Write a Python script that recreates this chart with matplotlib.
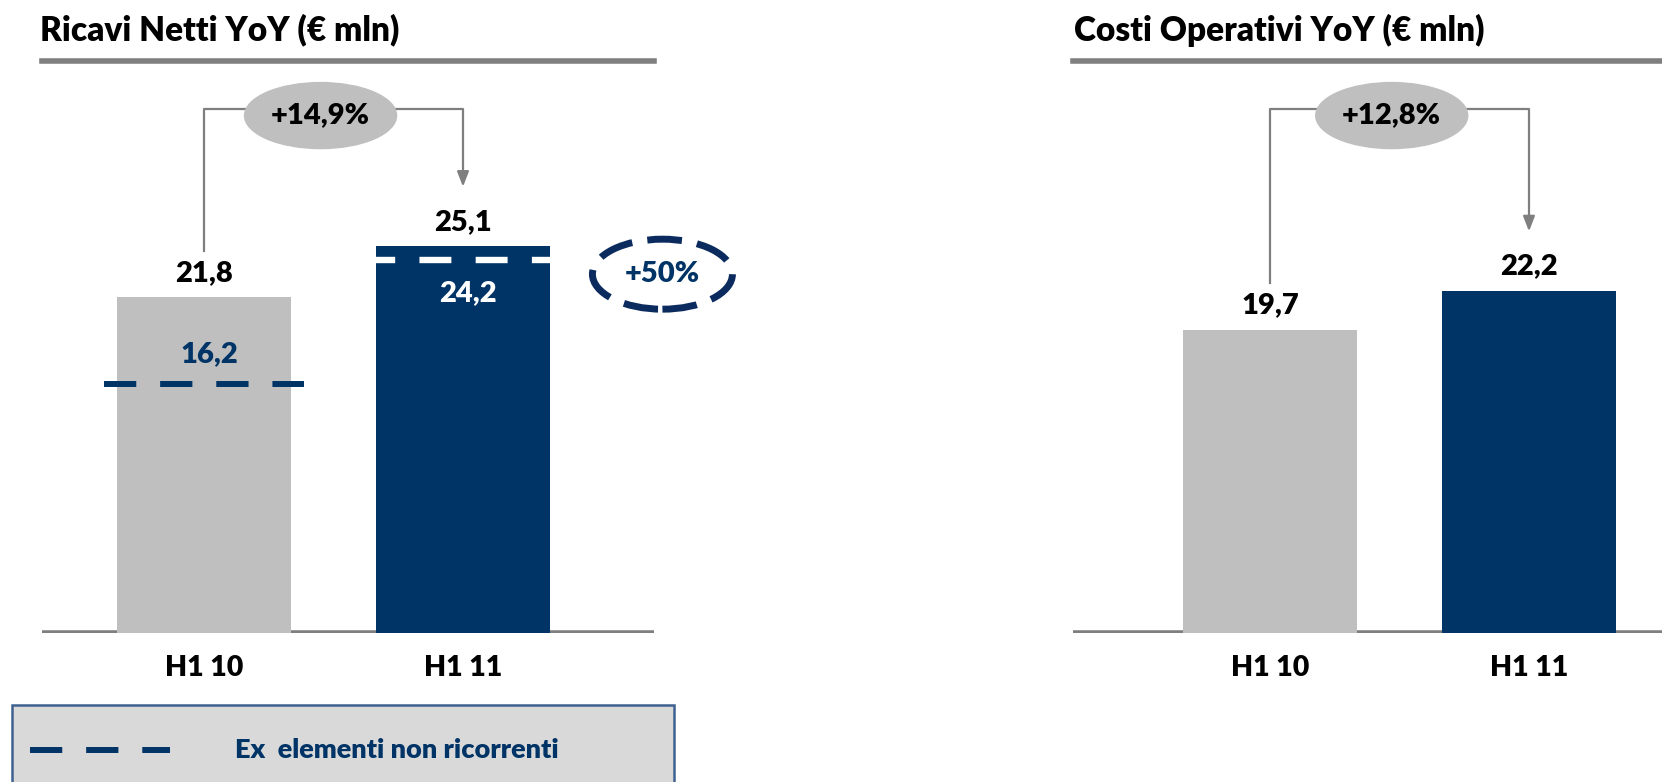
import matplotlib.pyplot as plt
from matplotlib.patches import Ellipse, Rectangle

# data
periods = ["H1 10", "H1 11"]
ricavi = [21.8, 25.1]
ricavi_ex = [16.2, 24.2]          # ex elementi non ricorrenti
costi = [19.7, 22.2]
ricavi_growth = "+14,9%"
costi_growth = "+12,8%"
ex_growth = "+50%"

GREY_BAR = "#bfbfbf"
NAVY = "#003366"
DARK_NAVY = "#0b2a5e"
RULE = "#7f7f7f"

W, H = 1662, 782
plt.rcParams['font.family'] = ['Lato', 'DejaVu Sans']
plt.rcParams['font.weight'] = 'heavy'
fig = plt.figure(figsize=(W / 100, H / 100), dpi=100)

PX_UNIT = 15.4     # pixels per € mln
BASE = 633         # baseline, px from top
STEP = 259         # px between bar centres


def fx(px):
    return px / W


def fy(py):
    return 1 - py / H


def fmt(v):
    return f"{v:.1f}".replace(".", ",")


def make_panel(x0, x1, c0, title, title_x, values, growth, ell_dx):
    ax = fig.add_axes([fx(x0), fy(BASE), (x1 - x0) / W, BASE / H])
    ax.set_xlim((x0 - c0) / STEP, (x1 - c0) / STEP)
    ax.set_ylim(0, BASE / PX_UNIT)
    ax.axis('off')

    x = range(len(values))
    ax.bar(x, values, width=0.67, color=[GREY_BAR, NAVY], zorder=2)
    for i, v in enumerate(values):
        ax.text(i, v + 1.6, fmt(v), ha='center', va='center', fontsize=21, color='black')
        ax.text(i, -2.3, periods[i], ha='center', va='center', fontsize=20.5, color='black')

    # title and rules
    fig.text(fx(title_x), fy(30), title, ha='left', va='center', fontsize=24)
    fig.add_artist(plt.Line2D([fx(x0), fx(x1)], [fy(61), fy(61)], color=RULE, lw=4))
    ax.axhline(0, color=RULE, lw=4, zorder=1)

    # growth bracket
    top = 34.0
    ax.plot([0, 0, 1, 1], [values[0] + 3.0, top, top, values[1] + 4.5], color=RULE, lw=1.6, zorder=3)
    ax.annotate("", xy=(1, values[1] + 3.7), xytext=(1, values[1] + 4.6),
                arrowprops=dict(arrowstyle='-|>,head_width=0.35,head_length=0.9', color=RULE, lw=1.6),
                zorder=3)
    ax.add_patch(Ellipse((ell_dx, top - 0.4), 152 / STEP, 66 / PX_UNIT, color=GREY_BAR, zorder=4))
    ax.text(ell_dx, top - 0.4, growth, ha='center', va='center', fontsize=21, color='black', zorder=5)
    return ax


ax1 = make_panel(42, 654, 204, "Ricavi Netti YoY (€ mln)", 40, ricavi, ricavi_growth, 0.45)
ax2 = make_panel(1073, 1662, 1270, "Costi Operativi YoY (€ mln)", 1074, costi, costi_growth, 0.47)

# ex-non-recurring dashed levels on the revenue chart
ax1.plot([-0.386, 0.386], [ricavi_ex[0]] * 2, color=NAVY, lw=4.3, dashes=(5.4, 4.0),
         solid_capstyle='butt', dash_capstyle='butt', zorder=3)
ax1.text(0.02, ricavi_ex[0] + 1.9, fmt(ricavi_ex[0]), ha='center', va='center', fontsize=21, color=NAVY)
ax1.plot([1 - 0.335, 1 + 0.335], [ricavi_ex[1]] * 2, color='white', lw=4.6,
         linestyle=(2.0, (5.0, 3.8)), dash_capstyle='butt', zorder=3)
ax1.text(1.02, ricavi_ex[1] - 2.1, fmt(ricavi_ex[1]), ha='center', va='center', fontsize=21, color='white',
         zorder=4)

# +50% dashed ellipse
ax1.add_patch(Ellipse((1.77, ricavi[0] + 1.5), 140 / STEP, 70 / PX_UNIT, fill=False, ec=DARK_NAVY,
                      lw=5, linestyle=(0, (5.0, 2.2)), clip_on=False, zorder=4))
ax1.text(1.77, ricavi[0] + 1.5, ex_growth, ha='center', va='center', fontsize=21, color=NAVY,
         clip_on=False)

# legend box
fig.add_artist(Rectangle((fx(12), fy(800)), fx(662), 95 / H, transform=fig.transFigure,
                         fc="#d9d9d9", ec="#3f6190", lw=1.8))
fig.add_artist(plt.Line2D([fx(30), fx(170)], [fy(750), fy(750)], color=NAVY, lw=4.3,
                          dashes=(5.4, 4.0), dash_capstyle='butt'))
fig.text(fx(235), fy(750), "Ex  elementi non ricorrenti", ha='left', va='center', fontsize=19.5, color=NAVY)

fig.savefig("out.png", dpi=100)
